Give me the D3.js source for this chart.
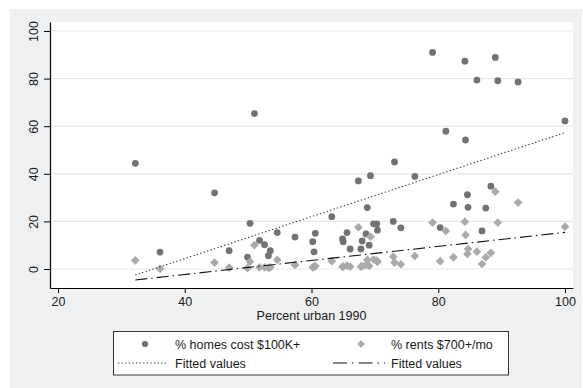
<!DOCTYPE html>
<html>
<head>
<meta charset="utf-8">
<script src="https://cdn.jsdelivr.net/npm/d3@7"></script>
<style>
  html, body { margin: 0; padding: 0; background: #ffffff; }
  svg { display: block; font-family: "Liberation Sans", Arial, Helvetica, sans-serif; }
</style>
</head>
<body>
<svg id="chart" width="583" height="388"></svg>
<script>
// ---- data ----
const percentUrban = [32.2, 36.1, 44.7, 47.0, 49.9, 50.3, 51.0, 51.8, 52.6, 53.5, 53.2, 54.6, 57.4,
  60.2, 60.6, 60.4, 63.2, 64.9, 65.0, 65.6, 66.1, 67.4, 67.8, 68.0, 68.6, 68.8, 69.1, 69.3, 69.8,
  70.3, 70.4, 72.9, 73.1, 74.1, 76.3, 79.1, 80.3, 81.2, 82.4, 84.2, 84.3, 84.6, 84.7, 86.1, 86.9,
  87.5, 88.3, 89.0, 89.4, 92.6, 100.0];
const homesCost100k = [44.4, 7.1, 32.0, 7.7, 5.0, 19.2, 65.3, 12.0, 10.2, 7.7, 5.6, 15.3, 13.4,
  11.5, 15.0, 7.2, 22.0, 12.6, 11.5, 15.3, 8.4, 37.0, 8.4, 11.8, 14.7, 25.8, 10.0, 39.2, 19.0,
  19.0, 16.3, 20.0, 45.0, 17.3, 38.9, 91.0, 17.4, 57.9, 27.3, 87.3, 54.2, 31.2, 25.9, 79.4, 16.0,
  25.6, 34.8, 88.9, 79.1, 78.6, 62.2];
const rents700 = [3.6, 0.1, 2.7, 0.6, 0.4, 3.1, 10.0, 0.7, 0.7, 0.7, 0.5, 3.8, 1.7,
  0.7, 1.2, 0.9, 3.3, 1.0, 1.0, 1.4, 1.0, 17.5, 1.0, 1.2, 1.7, 3.8, 1.3, 13.6, 4.0,
  3.5, 3.0, 5.2, 2.7, 2.0, 5.5, 19.5, 3.3, 16.0, 4.9, 19.9, 14.3, 6.3, 8.4, 7.3, 2.1,
  4.9, 6.8, 32.5, 19.5, 27.9, 17.8];
// fitted lines (endpoints)
const fitX = [32.2, 100.0];
const homesFit = [-2.5, 57.3];
const rentsFit = [-4.6, 15.4];
// ticks
const xTicks = [20, 40, 60, 80, 100];
const yTicks = [0, 20, 40, 60, 80, 100];
const xTitle = "Percent urban 1990";
const legendLabels = ["% homes cost $100K+", "% rents $700+/mo", "Fitted values", "Fitted values"];

// ---- drawing ----
const svg = d3.select("#chart");
const P = { left: 50, right: 573, top: 22, bottom: 288 };
const x = d3.scaleLinear().domain([18.74, 101.26]).range([P.left, P.right]);
const y = d3.scaleLinear().domain([-7.98, 103.78]).range([P.bottom, P.top]);

const textCol = "#1a1a1a";
const homeCol = "#727272";
const rentCol = "#aaaaaa";

// outer grey region
svg.append("rect").attr("x", 10).attr("y", 9).attr("width", 572).attr("height", 379)
  .attr("fill", "#eff0f2");
// plot region
svg.append("rect").attr("x", P.left).attr("y", P.top)
  .attr("width", P.right - P.left).attr("height", P.bottom - P.top).attr("fill", "#ffffff");

// grid
svg.append("g").selectAll("line").data(yTicks).join("line")
  .attr("x1", P.left).attr("x2", P.right)
  .attr("y1", d => y(d)).attr("y2", d => y(d))
  .attr("stroke", "#e6e7e8").attr("stroke-width", 1.2);

// points: homes
svg.append("g").selectAll("circle").data(percentUrban.map((u, i) => [u, homesCost100k[i]])).join("circle")
  .attr("cx", d => x(d[0])).attr("cy", d => y(d[1])).attr("r", 3.4)
  .attr("fill", homeCol);

// points: rents (diamonds)
const diamond = d3.symbol().type(d3.symbolSquare).size(38);
svg.append("g").selectAll("path").data(percentUrban.map((u, i) => [u, rents700[i]])).join("path")
  .attr("d", diamond)
  .attr("transform", d => `translate(${x(d[0])},${y(d[1])}) rotate(45)`)
  .attr("fill", rentCol);

// fitted lines
const line = d3.line().x(d => x(d[0])).y(d => y(d[1]));
svg.append("path").datum(fitX.map((v, i) => [v, homesFit[i]]))
  .attr("d", line).attr("fill", "none").attr("stroke", "#333")
  .attr("stroke-width", 1.1).attr("stroke-dasharray", "1.3,2.3");
svg.append("path").datum(fitX.map((v, i) => [v, rentsFit[i]]))
  .attr("d", line).attr("fill", "none").attr("stroke", "#111")
  .attr("stroke-width", 1.1).attr("stroke-dasharray", "12,4,1.5,4");

// axes
const xAxis = svg.append("g").attr("transform", `translate(0,${P.bottom})`)
  .call(d3.axisBottom(x).tickValues(xTicks).tickSize(5).tickSizeOuter(0).tickPadding(4));
const yAxis = svg.append("g").attr("transform", `translate(${P.left},0)`)
  .call(d3.axisLeft(y).tickValues(yTicks).tickSize(6).tickSizeOuter(0));
[xAxis, yAxis].forEach(g => {
  g.select(".domain").attr("stroke", "#000").attr("stroke-width", 1.2);
  g.selectAll(".tick line").attr("stroke", "#000").attr("stroke-width", 1);
  g.selectAll("text").attr("fill", textCol).attr("font-size", 12.5)
    .attr("font-family", '"Liberation Sans", Arial, sans-serif');
});
yAxis.selectAll(".tick text")
  .attr("transform", "rotate(-90)").attr("text-anchor", "middle")
  .attr("x", 0).attr("y", -12).attr("dy", 0);

// x title
svg.append("text").attr("x", (x(20) + x(100)) / 2).attr("y", 319.5)
  .attr("text-anchor", "middle").attr("font-size", 12.5).attr("fill", textCol)
  .text(xTitle);

// legend
const L = svg.append("g");
L.append("rect").attr("x", 113.5).attr("y", 331.5).attr("width", 395).attr("height", 43.5)
  .attr("fill", "#ffffff").attr("stroke", "#333").attr("stroke-width", 1);
const row1 = 344, row2 = 363;
L.append("circle").attr("cx", 145).attr("cy", row1).attr("r", 3.1).attr("fill", homeCol);
L.append("path").attr("d", d3.symbol().type(d3.symbolSquare).size(30))
  .attr("transform", `translate(361,${row1}) rotate(45)`).attr("fill", rentCol);
L.append("line").attr("x1", 118).attr("x2", 166).attr("y1", row2).attr("y2", row2)
  .attr("stroke", "#333").attr("stroke-width", 1.1).attr("stroke-dasharray", "1.3,2.3");
L.append("line").attr("x1", 333).attr("x2", 385).attr("y1", row2).attr("y2", row2)
  .attr("stroke", "#111").attr("stroke-width", 1.1).attr("stroke-dasharray", "14,5,1.5,5");
const lx = [175, 391, 175, 391], ly = [row1, row1, row2, row2];
L.selectAll("text.leg").data(legendLabels).join("text").attr("class", "leg")
  .attr("x", (d, i) => lx[i]).attr("y", (d, i) => ly[i]).attr("dy", "0.36em")
  .attr("font-size", 12.5).attr("fill", textCol).text(d => d);
</script>
</body>
</html>
